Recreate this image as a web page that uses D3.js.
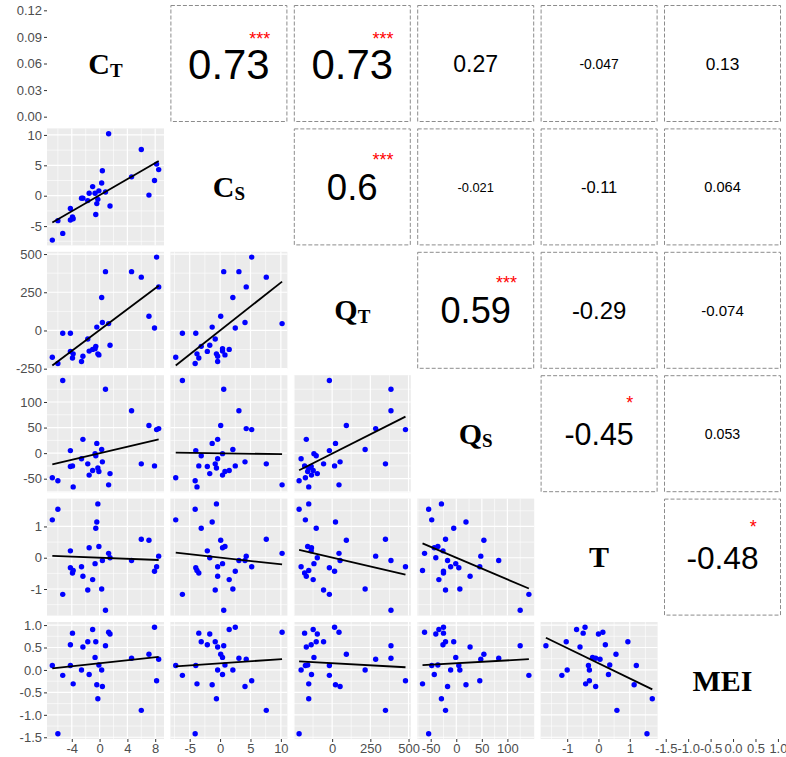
<!DOCTYPE html>
<html>
<head>
<meta charset="utf-8">
<script src="https://cdn.jsdelivr.net/npm/d3@7"></script>
<style>
  body { margin: 0; background: #fff; }
</style>
</head>
<body>
<div id="chart"></div>
<script>
// variables (diagonal labels: main letter + subscript)
const varMain = ["C", "C", "Q", "Q", "T", "MEI"];
const varSub = ["T", "S", "T", "S", "", ""];

const CT  = [-6.8, -6.0, -5.3, -4.2, -4.2, -3.9, -3.8, -2.6, -2.4, -1.7, -1.5, -1.0, -0.65, -0.55, -0.4, -0.25, -0.1, 0.3, 0.4, 0.85, 1.3, 1.5, 4.6, 6.0, 7.1, 7.9, 8.2, 8.5];
const CS  = [-7.3, -4.1, -6.2, -4.0, -2.1, -3.5, -3.8, -0.4, -0.4, -0.8, 0.4, 1.5, 0.4, -3.1, -1.3, -0.6, 0.8, 2.1, 4.1, 0.6, 10.2, -1.7, 3.1, 7.6, 0.1, 2.5, 5.2, 4.3];
const QT  = [-175, -216, -18, -18, -137, -180, -153, -203, -169, -56, -135, -124, -119, -104, 22, -153, -160, 216, 52, 385, 45, -97, 385, 349, 93, 16, 480, 285];
const QS  = [-48, -54, 142, 5, -26, -25, -66, -11, 27, -21, -43, -34, -1, -5, 19, -29, -36, 7, -17, 125, -62, -40, 83, -21, 54, -25, 46, 48];
const T   = [1.21, 1.55, -1.17, -0.32, 0.22, -0.49, -0.41, -0.29, -0.59, -1.03, 0.32, -0.70, -0.19, 0.94, 1.14, 1.72, 0.36, -1.0, -0.09, -1.68, 0.14, 0.0, -0.09, 0.59, 0.56, -0.43, -0.29, 0.05];
const MEI = [0.10, -1.42, -0.12, 0.10, 0.56, 0.82, -0.31, 0.0, 0.51, 0.63, -0.10, 0.90, 0.28, 0.63, -0.33, -0.64, 0.11, 0.0, -0.37, 0.54, 0.84, 0.80, 0.26, -0.90, 0.35, 0.95, -0.24, 0.24];

// upper triangle: correlation text and significance stars, row by row
const corrText = [
  ["0.73", "0.73", "0.27", "-0.047", "0.13"],
  ["0.6", "-0.021", "-0.11", "0.064"],
  ["0.59", "-0.29", "-0.074"],
  ["-0.45", "0.053"],
  ["-0.48"]
];
const corrStars = [
  ["***", "***", "", "", ""],
  ["***", "", "", ""],
  ["***", "", ""],
  ["*", ""],
  ["*"]
];

// axis ticks
const firstRowDomain = [0, 0.12];
const rowTicks = [
  [0, 0.03, 0.06, 0.09, 0.12],
  [-5, 0, 5, 10],
  [-250, 0, 250, 500],
  [-50, 0, 50, 100],
  [-1, 0, 1],
  [-1.5, -1, -0.5, 0, 0.5, 1]
];
const rowTickLabels = [
  ["0.00", "0.03", "0.06", "0.09", "0.12"],
  ["-5", "0", "5", "10"],
  ["-250", "0", "250", "500"],
  ["-50", "0", "50", "100"],
  ["-1", "0", "1"],
  ["-1.5", "-1.0", "-0.5", "0.0", "0.5", "1.0"]
];
const colTicks = [
  [-4, 0, 4, 8],
  [-5, 0, 5, 10],
  [0, 250, 500],
  [-50, 0, 50, 100],
  [-1, 0, 1],
  [-1.5, -1, -0.5, 0, 0.5, 1]
];
const colTickLabels = [
  ["-4", "0", "4", "8"],
  ["-5", "0", "5", "10"],
  ["0", "250", "500"],
  ["-50", "0", "50", "100"],
  ["-1", "0", "1"],
  ["-1.5", "-1.0", "-0.5", "0.0", "0.5", "1.0"]
];
const gridTicks = [
  [-8, -4, 0, 4, 8],
  [-5, 0, 5, 10],
  [-250, 0, 250, 500],
  [-50, 0, 50, 100],
  [-1, 0, 1],
  [-1.5, -1, -0.5, 0, 0.5, 1]
];

const vars = [CT, CS, QT, QS, T, MEI];
const n = vars.length;

// layout
const svgW = 786, svgH = 757;
const padLeft = 47, padTop = 5, size = 117, step = 123.4;
const sansFont = "'Liberation Sans', Arial, sans-serif";
const serifFont = "'Liberation Serif', 'Times New Roman', serif";

const svg = d3.select("#chart").append("svg")
  .attr("width", svgW)
  .attr("height", svgH);

// ggplot style 5% expansion
function expand(ext) {
  const r = ext[1] - ext[0];
  return [ext[0] - 0.05 * r, ext[1] + 0.05 * r];
}

const xScales = vars.map((v, j) => d3.scaleLinear()
  .domain(expand(d3.extent(v)))
  .range([padLeft + j * step, padLeft + j * step + size]));
const yScales = vars.map((v, i) => d3.scaleLinear()
  .domain(i === 0 ? expand(firstRowDomain) : expand(d3.extent(v)))
  .range([padTop + i * step + size, padTop + i * step]));

function inDomain(scale) {
  const d = scale.domain();
  return t => t >= d[0] && t <= d[1];
}

function minorTicks(ticks) {
  const d = ticks[1] - ticks[0];
  const out = [ticks[0] - d / 2];
  ticks.forEach(t => out.push(t + d / 2));
  return out;
}

// simple least squares fit
function linfit(x, y) {
  const mx = d3.mean(x), my = d3.mean(y);
  let sxy = 0, sxx = 0;
  x.forEach((v, k) => {
    sxy += (v - mx) * (y[k] - my);
    sxx += (v - mx) * (v - mx);
  });
  const b = sxy / sxx;
  return { a: my - b * mx, b: b };
}

for (let i = 0; i < n; i++) {
  for (let j = 0; j < n; j++) {
    const x0 = padLeft + j * step, y0 = padTop + i * step;
    const g = svg.append("g");

    if (i > j) {
      // scatter panel
      const xs = xScales[j], ys = yScales[i];
      g.append("rect")
        .attr("x", x0).attr("y", y0)
        .attr("width", size).attr("height", size)
        .attr("fill", "#ebebeb");

      const gx = minorTicks(gridTicks[j]).filter(inDomain(xs));
      const gy = minorTicks(gridTicks[i]).filter(inDomain(ys));
      g.selectAll(".vmin").data(gx).enter().append("line")
        .attr("x1", d => xs(d)).attr("x2", d => xs(d))
        .attr("y1", y0).attr("y2", y0 + size)
        .attr("stroke", "#fff").attr("stroke-width", 0.6);
      g.selectAll(".hmin").data(gy).enter().append("line")
        .attr("y1", d => ys(d)).attr("y2", d => ys(d))
        .attr("x1", x0).attr("x2", x0 + size)
        .attr("stroke", "#fff").attr("stroke-width", 0.6);
      g.selectAll(".vmaj").data(gridTicks[j].filter(inDomain(xs))).enter().append("line")
        .attr("x1", d => xs(d)).attr("x2", d => xs(d))
        .attr("y1", y0).attr("y2", y0 + size)
        .attr("stroke", "#fff").attr("stroke-width", 1.2);
      g.selectAll(".hmaj").data(gridTicks[i].filter(inDomain(ys))).enter().append("line")
        .attr("y1", d => ys(d)).attr("y2", d => ys(d))
        .attr("x1", x0).attr("x2", x0 + size)
        .attr("stroke", "#fff").attr("stroke-width", 1.2);

      const pts = vars[j].map((v, k) => ({ x: v, y: vars[i][k] }));
      g.selectAll("circle").data(pts).enter().append("circle")
        .attr("cx", d => xs(d.x))
        .attr("cy", d => ys(d.y))
        .attr("r", 2.7)
        .attr("fill", "#0000ff");

      const fit = linfit(vars[j], vars[i]);
      const ext = d3.extent(vars[j]);
      g.append("line")
        .attr("x1", xs(ext[0])).attr("y1", ys(fit.a + fit.b * ext[0]))
        .attr("x2", xs(ext[1])).attr("y2", ys(fit.a + fit.b * ext[1]))
        .attr("stroke", "#000").attr("stroke-width", 1.8);
    } else if (i === j) {
      // variable name
      g.append("rect")
        .attr("x", x0).attr("y", y0)
        .attr("width", size).attr("height", size)
        .attr("fill", "#fff");
      const label = g.append("text")
        .attr("x", x0 + size / 2)
        .attr("y", y0 + size / 2 + 10)
        .attr("text-anchor", "middle")
        .attr("font-family", serifFont)
        .attr("font-weight", "bold")
        .attr("font-size", 30)
        .attr("fill", "#000");
      label.append("tspan").text(varMain[i]);
      if (varSub[i]) {
        label.append("tspan")
          .attr("font-size", 19)
          .attr("dy", 3)
          .text(varSub[i]);
      }
    } else {
      // correlation text, stars as a red tspan of the same text
      g.append("rect")
        .attr("x", x0 + 0.5).attr("y", y0 + 0.5)
        .attr("width", size - 1).attr("height", size - 1)
        .attr("fill", "#fff")
        .attr("stroke", "#8c8c8c")
        .attr("stroke-width", 1)
        .attr("stroke-dasharray", "4,2");
      const txt = corrText[i][j - i - 1];
      const fs = 12 + 41 * Math.abs(parseFloat(txt));
      const label = g.append("text")
        .attr("text-anchor", "middle")
        .attr("font-family", sansFont)
        .attr("fill", "#000");
      label.append("tspan")
        .attr("x", x0 + size / 2)
        .attr("y", y0 + size / 2 + 0.36 * fs)
        .attr("font-size", fs)
        .text(txt);
      const stars = corrStars[i][j - i - 1];
      if (stars) {
        label.append("tspan")
          .attr("x", x0 + 0.763 * size)
          .attr("y", y0 + 7 + 0.55 * fs + 10.4)
          .attr("font-size", 18)
          .attr("fill", "#ff0000")
          .text(stars);
      }
    }
  }
}

// left axes
for (let i = 0; i < n; i++) {
  const ax = svg.append("g")
    .attr("transform", "translate(" + padLeft + ",0)")
    .call(d3.axisLeft(yScales[i])
      .tickValues(rowTicks[i])
      .tickSize(3)
      .tickPadding(2)
      .tickFormat((d, k) => rowTickLabels[i][k]));
  ax.select(".domain").remove();
}

// bottom axes
const bottomY = padTop + (n - 1) * step + size;
for (let j = 0; j < n; j++) {
  const ax = svg.append("g")
    .attr("transform", "translate(0," + bottomY + ")")
    .call(d3.axisBottom(xScales[j])
      .tickValues(colTicks[j])
      .tickSize(3)
      .tickPadding(2)
      .tickFormat((d, k) => colTickLabels[j][k]));
  ax.select(".domain").remove();
}

svg.selectAll(".tick line").attr("stroke", "#333");
svg.selectAll(".tick text")
  .attr("fill", "#4d4d4d")
  .attr("font-family", sansFont)
  .attr("font-size", 13);
</script>
</body>
</html>
